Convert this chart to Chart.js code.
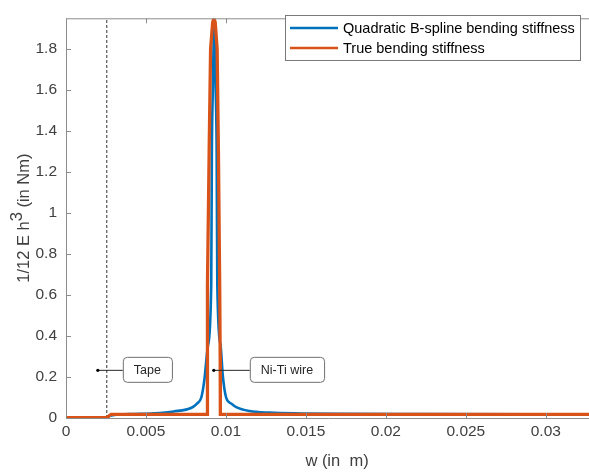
<!DOCTYPE html>
<html lang="en">
<head>
    <meta charset="UTF-8">
    <title>Bending stiffness</title>
    <script src="https://cdn.jsdelivr.net/npm/chart.js"></script>
    <style>
        body { margin: 0; background: #fff; }
        .chart-container { width: 589px; height: 473px; position: relative; }
    </style>
</head>
<body>
    <div class="chart-container">
        <canvas id="stiffChart"></canvas>
    </div>

    <script>
        // tick values / labels
        const xTicks = [0, 0.005, 0.01, 0.015, 0.02, 0.025, 0.03];
        const xTickLabels = ["0", "0.005", "0.01", "0.015", "0.02", "0.025", "0.03"];
        const yTicks = [0, 0.2, 0.4, 0.6, 0.8, 1, 1.2, 1.4, 1.6, 1.8];
        const yTickLabels = ["0", "0.2", "0.4", "0.6", "0.8", "1", "1.2", "1.4", "1.6", "1.8"];

        // Quadratic B-spline bending stiffness
        const splineW = [0, 0.00255, 0.00275, 0.00393, 0.00551, 0.00673, 0.00785, 0.00819, 0.00846, 0.00864, 0.00887,
            0.00908, 0.00912, 0.00918, 0.00927, 0.00936, 0.00942, 0.00946, 0.00967, 0.0098, 0.01001,
            0.01034, 0.01064, 0.01147, 0.01272, 0.01471, 0.01725, 0.02233, 0.0327];
        const splineK = [0.002, 0.002, 0.011, 0.019, 0.023, 0.032, 0.05, 0.07, 0.10, 0.18, 0.35,
            0.65, 1.3, 1.6, 1.93, 1.6, 1.3, 0.65, 0.35, 0.21, 0.10,
            0.07, 0.053, 0.034, 0.026, 0.022, 0.02, 0.019, 0.018];

        // True bending stiffness
        const trueW = [0, 0.00255, 0.00282, 0.00882, 0.00883, 0.00886, 0.00895, 0.00904, 0.00917, 0.00925,
            0.00933, 0.00945, 0.00953, 0.00961, 0.00964, 0.00965, 0.0327];
        const trueK = [0.002, 0.002, 0.018, 0.018, 0.3, 0.65, 1.3, 1.8, 1.93, 1.95,
            1.93, 1.8, 1.3, 0.65, 0.3, 0.018, 0.018];

        // tape boundary (dashed)
        const tapeEdgeW = [0.00255, 0.00255];
        const tapeEdgeK = [0, 1.95];

        // annotations
        const noteLabels = ["Tape", "Ni-Ti wire"];
        const noteW = [0.00199, 0.00924];
        const noteK = [0.235, 0.235];
        const noteGap = [25, 36];   // px from dot to box

        const legendLabels = ["Quadratic B-spline bending stiffness", "True bending stiffness"];

        const BLUE = "#0072BD";
        const ORANGE = "#D95319";
        const FONT = "'Liberation Sans', Arial, Helvetica, sans-serif";
        const AXIS = "#8c8c8c";
        const TEXT = "#404040";

        const toPts = (xs, ys) => xs.map((v, i) => ({ x: v, y: ys[i] }));

        const decorPlugin = {
            id: "decor",
            afterDatasetsDraw(chart) {
                const { ctx, chartArea: a, scales: { x, y } } = chart;
                ctx.save();

                // axes box + inward ticks
                ctx.strokeStyle = AXIS;
                ctx.lineWidth = 1;
                ctx.beginPath();
                ctx.moveTo(a.left + 0.5, a.bottom + 0.5);
                ctx.lineTo(a.left + 0.5, a.top + 0.5);
                ctx.lineTo(a.right + 5, a.top + 0.5);
                ctx.moveTo(a.left + 0.5, a.bottom + 0.5);
                ctx.lineTo(a.right + 5, a.bottom + 0.5);
                xTicks.forEach(v => {
                    const px = Math.round(x.getPixelForValue(v)) + 0.5;
                    ctx.moveTo(px, a.bottom);
                    ctx.lineTo(px, a.bottom - 5);
                    ctx.moveTo(px, a.top);
                    ctx.lineTo(px, a.top + 5);
                });
                yTicks.forEach(v => {
                    const py = Math.round(y.getPixelForValue(v)) + 0.5;
                    ctx.moveTo(a.left, py);
                    ctx.lineTo(a.left + 5, py);
                });
                ctx.stroke();

                // annotations
                ctx.font = "12.5px " + FONT;
                ctx.textAlign = "center";
                ctx.textBaseline = "middle";
                noteLabels.forEach((txt, i) => {
                    const px = x.getPixelForValue(noteW[i]);
                    const py = y.getPixelForValue(noteK[i]);
                    const bx = px + noteGap[i];
                    const bw = ctx.measureText(txt).width + 22;
                    const bh = 25;
                    ctx.strokeStyle = "#262626";
                    ctx.beginPath();
                    ctx.moveTo(px, py + 0.5);
                    ctx.lineTo(bx, py + 0.5);
                    ctx.stroke();
                    ctx.fillStyle = "#000";
                    ctx.beginPath();
                    ctx.arc(px, py + 0.5, 1.6, 0, Math.PI * 2);
                    ctx.fill();
                    ctx.fillStyle = "#fff";
                    ctx.strokeStyle = "#707070";
                    ctx.beginPath();
                    ctx.roundRect(bx + 0.5, py - bh / 2, bw, bh, 4);
                    ctx.fill();
                    ctx.stroke();
                    ctx.fillStyle = "#262626";
                    ctx.fillText(txt, bx + bw / 2, py + 1);
                });

                // legend
                const lx = 285, ly = 15, lw = 295, lh = 45;
                ctx.fillStyle = "#fff";
                ctx.strokeStyle = "#7a7a7a";
                ctx.fillRect(lx, ly, lw, lh);
                ctx.strokeRect(lx + 0.5, ly + 0.5, lw, lh);
                ctx.font = "14.5px " + FONT;
                ctx.textAlign = "left";
                [BLUE, ORANGE].forEach((c, i) => {
                    const ry = ly + 13 + i * 20;
                    ctx.strokeStyle = c;
                    ctx.lineWidth = 2.5;
                    ctx.beginPath();
                    ctx.moveTo(lx + 5, ry);
                    ctx.lineTo(lx + 53, ry);
                    ctx.stroke();
                    ctx.fillStyle = "#000";
                    ctx.fillText(legendLabels[i], lx + 58, ry + 1);
                });

                // axis titles
                ctx.fillStyle = TEXT;
                ctx.font = "16.5px " + FONT;
                ctx.textAlign = "center";
                ctx.fillText("w (in  m)", 337, 461);

                ctx.translate(24, (a.top + a.bottom) / 2);
                ctx.rotate(-Math.PI / 2);
                const p1 = "1/12 E h", p2 = "3", p3 = " (in Nm)";
                const w1 = ctx.measureText(p1).width;
                const w2 = ctx.measureText(p2).width;
                const w3 = ctx.measureText(p3).width;
                let sx = -(w1 + w2 + w3) / 2;
                ctx.textAlign = "left";
                ctx.fillText(p1, sx, 0);
                ctx.fillText(p2, sx + w1, -7);
                ctx.fillText(p3, sx + w1 + w2, 0);

                ctx.restore();
            }
        };

        new Chart(document.getElementById("stiffChart"), {
            type: "scatter",
            data: {
                datasets: [
                    {
                        label: "tape edge",
                        data: toPts(tapeEdgeW, tapeEdgeK),
                        showLine: true,
                        borderColor: "#333333",
                        borderWidth: 1,
                        borderDash: [3, 2],
                        pointRadius: 0,
                        order: 3
                    },
                    {
                        label: legendLabels[0],
                        data: toPts(splineW, splineK),
                        showLine: true,
                        borderColor: BLUE,
                        borderWidth: 2.6,
                        cubicInterpolationMode: "monotone",
                        pointRadius: 0,
                        order: 2
                    },
                    {
                        label: legendLabels[1],
                        data: toPts(trueW, trueK),
                        showLine: true,
                        borderColor: ORANGE,
                        borderWidth: 3.3,
                        pointRadius: 0,
                        order: 1
                    }
                ]
            },
            options: {
                responsive: true,
                maintainAspectRatio: false,
                animation: false,
                layout: { padding: { top: 3, right: 0, left: 0, bottom: 0 } },
                plugins: {
                    legend: { display: false },
                    tooltip: { enabled: false }
                },
                scales: {
                    x: {
                        type: "linear",
                        min: 0,
                        max: 0.0327,
                        afterBuildTicks: s => { s.ticks = xTicks.map(v => ({ value: v })); },
                        afterFit: s => { s.height = 55; },
                        grid: { display: false, drawTicks: false },
                        border: { display: false },
                        ticks: {
                            maxRotation: 0,
                            padding: 4,
                            color: TEXT,
                            font: { family: FONT, size: 15.5 },
                            callback: (v, i) => xTickLabels[i]
                        }
                    },
                    y: {
                        min: 0,
                        max: 1.95,
                        afterBuildTicks: s => { s.ticks = yTicks.map(v => ({ value: v })); },
                        afterFit: s => { s.width = 66; },
                        grid: { display: false, drawTicks: false },
                        border: { display: false },
                        ticks: {
                            padding: 9,
                            color: TEXT,
                            font: { family: FONT, size: 15.5 },
                            callback: (v, i) => yTickLabels[i]
                        }
                    }
                }
            },
            plugins: [decorPlugin]
        });
    </script>
</body>
</html>
